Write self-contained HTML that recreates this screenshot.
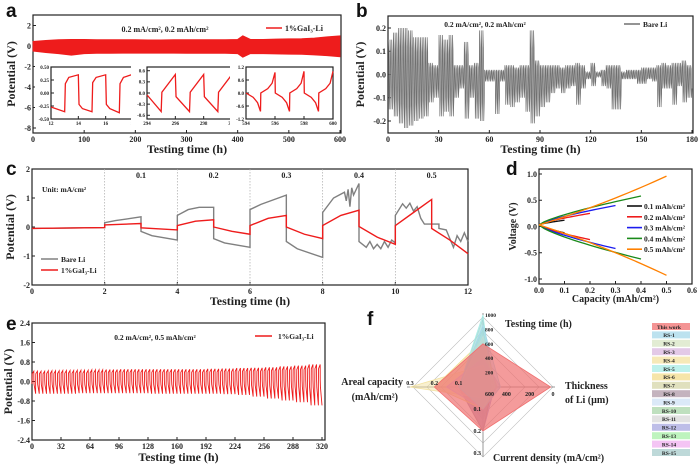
<!DOCTYPE html>
<html><head><meta charset="utf-8">
<style>
html,body{margin:0;padding:0;background:#fff;}
svg{display:block;}
text{font-family:"Liberation Serif",serif;font-weight:bold;fill:#222;}
.lt{font-family:"Liberation Sans",sans-serif;font-weight:bold;fill:#111;}
</style></head>
<body>
<svg id="fig" width="700" height="466" viewBox="0 0 700 466" xmlns="http://www.w3.org/2000/svg"></svg>
<script>
// ---------- DATA ----------
// Panel a: envelope of 1%GaI3-Li trace, every 25 h
const aTimes=[0,25,50,75,100,125,150,175,200,225,250,275,300,325,350,375,400,410,425,450,475,500,525,550,575,600];
const aUpper=[0.45,0.55,0.62,0.65,0.65,0.62,0.62,0.62,0.62,0.6,0.6,0.62,0.62,0.62,0.62,0.62,0.65,1.0,0.65,0.65,0.68,0.7,0.72,0.78,0.9,1.0];
const aLower=[-0.5,-0.65,-0.75,-0.9,-0.75,-0.72,-0.72,-0.7,-0.7,-0.7,-0.7,-0.7,-0.72,-0.72,-0.72,-0.72,-0.75,-1.1,-0.75,-0.75,-0.78,-0.8,-0.82,-0.88,-0.95,-1.05];
// insets (t,v)
const in1T=[12,13,13.05,13.3,14,14.05,14.3,15,15.05,15.3,16,16.05,16.3,17,17.05,17.3,18];
const in1V=[-0.27,-0.36,0.18,0.3,0.35,-0.22,-0.3,-0.36,0.2,0.3,0.35,-0.22,-0.3,-0.38,0.18,0.3,0.36];
const in2T=[294,295,295.05,296,296.05,297,297.05,298,298.05,299,299.05,300];
const in2V=[-0.05,-0.5,0.02,0.5,-0.1,-0.5,0.02,0.5,-0.1,-0.5,0.02,0.5];
const in3T=[594,594.5,594.8,595,595.02,595.5,595.8,596,596.02,596.5,596.8,597,597.02,597.5,597.8,598,598.02,598.5,598.8,599,599.02,599.5,599.8,600];
const in3V=[0,-0.2,-0.45,-0.85,0,0.2,0.45,0.95,0,-0.2,-0.45,-0.85,0,0.2,0.45,1.0,0,-0.2,-0.45,-0.85,0,0.2,0.45,1.0];
// Panel b: Bare Li envelope per 3 h bin
const bUpper=[0.15,0.18,0.2,0.2,0.19,0.16,0.16,0.16,0.05,0.04,0.17,0.15,0.17,0.04,0.04,0.14,0.04,0.05,0.19,0.02,0.02,0.02,0.02,0.04,0.04,0.03,0.04,0.04,0.19,0.06,0.04,0.04,0.04,0.04,0.03,0.04,0.04,0.05,0.04,0.01,0.05,0.01,0.02,0.04,0.04,0.04,0.01,0.02,0.02,0.02,0.03,0.03,0.03,0.04,0.05,0.04,0.05,0.05,0.06,0.04];
const bLower=[-0.15,-0.18,-0.21,-0.23,-0.22,-0.2,-0.19,-0.18,-0.12,-0.1,-0.18,-0.16,-0.18,-0.1,-0.06,-0.19,-0.1,-0.19,-0.2,-0.03,-0.03,-0.17,-0.03,-0.13,-0.14,-0.12,-0.1,-0.16,-0.21,-0.18,-0.14,-0.12,-0.08,-0.06,-0.08,-0.06,-0.05,-0.13,-0.06,-0.02,-0.05,-0.01,-0.05,-0.06,-0.15,-0.15,-0.02,-0.02,-0.02,-0.04,-0.04,-0.02,-0.03,-0.14,-0.06,-0.06,-0.13,-0.05,-0.12,-0.1];
// Panel c
const cBareT=[0,2,2,2.3,3,3,3.3,4,4,4.3,4.6,5,5,5.3,6,6,6.3,7,7,7.3,8,8,8.3,8.6,8.65,8.7,8.75,8.8,8.85,9,9,9.2,9.3,9.4,9.5,9.6,9.7,9.8,9.9,10,10,10.2,10.3,10.4,10.5,10.6,10.7,10.8,11.2,11.2,11.4,11.5,11.6,11.7,11.8,11.9,12];
const cBareV=[-0.05,-0.02,0.15,0.22,0.35,-0.15,-0.3,-0.45,0.4,0.6,0.68,0.68,-0.4,-0.55,-0.7,0.6,0.78,1.1,-0.5,-0.75,-1.05,0.5,1.0,1.2,0.9,1.3,0.7,1.35,1.1,1.5,-0.5,-0.7,-0.5,-0.75,-0.6,-0.75,-0.5,-0.7,-0.45,-0.55,0.4,0.8,0.65,0.82,0.55,0.7,0.3,0.1,0.1,-0.05,-0.1,-0.4,-0.7,-0.3,-0.5,-0.2,-0.5];
const cGaT=[0,2,2,3,3,4,4,4.5,5,5,5.5,6,6,6.5,7,7,7.5,8,8,8.5,9,9,9.5,10,10,10.5,11,11,11.5,12];
const cGaV=[-0.05,-0.02,0.07,0.12,-0.03,-0.1,0.05,0.2,0.25,0,-0.15,-0.25,0.05,0.3,0.4,0,-0.25,-0.4,0.05,0.4,0.58,0.02,-0.35,-0.6,0.05,0.5,0.95,-0.05,-0.45,-0.92];
// Panel d
const dCaps=[0.1,0.2,0.3,0.4,0.5];
const dLabels=["0.1 mAh/cm²","0.2 mAh/cm²","0.3 mAh/cm²","0.4 mAh/cm²","0.5 mAh/cm²"];
const dEndUp=[0.12,0.25,0.4,0.58,0.96];
const dEndDn=[-0.12,-0.25,-0.42,-0.62,-0.93];
// Panel e: envelope every 16 h
const eUpper=[0.42,0.44,0.45,0.46,0.48,0.49,0.5,0.5,0.5,0.5,0.5,0.5,0.52,0.53,0.55,0.56,0.58,0.62,0.65,0.7,0.75];
const eLower=[-0.5,-0.5,-0.5,-0.48,-0.48,-0.48,-0.48,-0.48,-0.5,-0.5,-0.5,-0.5,-0.5,-0.52,-0.55,-0.62,-0.7,-0.78,-0.85,-0.98,-1.12];
// Panel f
const fNames=["This work","RS-1","RS-2","RS-3","RS-4","RS-5","RS-6","RS-7","RS-8","RS-9","RS-10","RS-11","RS-12","RS-13","RS-14","RS-15"];
const fTime=[600,850,700,400,300,1000,650,700,300,500,800,350,250,600,400,950];
const fThick=[20,450,500,450,500,520,480,520,520,480,500,550,500,520,500,500];
const fCurrent=[0.2,0.1,0.1,0.1,0.05,0.1,0.1,0.05,0.2,0.1,0.1,0.1,0.2,0.1,0.2,0.15];
const fAreal=[0.2,0.1,0.1,0.15,0.3,0.1,0.2,0.1,0.1,0.1,0.1,0.1,0.1,0.1,0.1,0.1];
const fColors=["#f07070","#a6d8ea","#d8e6c4","#d9b7df","#f3e2a0","#a8ece6","#f3dc8c","#d6d6a8","#b09aa8","#cfe2f5","#a9d6a9","#d8d8d8","#a8a8e0","#a8f0a8","#f0b0f0","#a8cccc"];

// ---------- HELPERS ----------
const NS="http://www.w3.org/2000/svg";
const svg=document.getElementById('fig');
function mk(tag,at,parent){const e=document.createElementNS(NS,tag);for(const k in at)e.setAttribute(k,at[k]);(parent||svg).appendChild(e);return e;}
function lin(d0,d1,r0,r1){return v=>r0+(v-d0)*(r1-r0)/(d1-d0);}
function txt(x,y,s,size,anchor,name,parent,cls){const t=mk('text',{x:x,y:y,'font-size':size,'text-anchor':anchor||'start'},parent);if(cls)t.setAttribute('class',cls);t.textContent=s;


return t;}
function pathD(xs,ys){return xs.map((x,i)=>(i?'L':'M')+x.toFixed(2)+' '+ys[i].toFixed(2)).join('');}
function axes(o){
 const g=mk('g',{});
 
 
 const fr=mk('rect',{x:o.x0,y:o.y0,width:o.x1-o.x0,height:o.y1-o.y0,fill:'none',stroke:'#222','stroke-width':1.2},g);
 
 
 const fs=o.fs||8;
 o.xt.forEach((v,i)=>{const x=o.X(v);mk('line',{x1:x,x2:x,y1:o.y1,y2:o.y1-3,stroke:'#222'},g);
   const t=txt(x,o.y1+fs+1,o.xl?o.xl[i]:String(v),fs,'middle','x-tick-label',g);});
 o.yt.forEach((v,i)=>{const y=o.Y(v);mk('line',{x1:o.x0,x2:o.x0+3,y1:y,y2:y,stroke:'#222'},g);
   txt(o.x0-2,y+fs*0.35,o.yl?o.yl[i]:String(v),fs,'end','y-tick-label',g);});
 if(o.xtitle){txt((o.x0+o.x1)/2,o.xty,o.xtitle,o.tfs||12,'middle','x-axis-title',g);}
 if(o.ytitle){const t=txt(0,0,o.ytitle,o.tfs||12,'middle','y-axis-title',g);t.setAttribute('transform','translate('+o.ytx+','+((o.y0+o.y1)/2)+') rotate(-90)');}
 return g;
}
function letter(x,y,s,name){const t=txt(x,y,s,19,'start',name,svg,'lt');return t;}

// ---------- PANEL a ----------
{
 const X=lin(0,600,33,340),Y=v=>46-10.25*v;
 axes({name:'panel-a-axes',x0:33,x1:341,y0:15,y1:133,X:X,Y:Y,xt:[0,100,200,300,400,500,600],yt:[2,0,-2,-4,-6,-8],xtitle:'Testing time (h)',xty:153,ytitle:'Potential (V)',ytx:15});
 const xs=aTimes.map(X).concat(aTimes.map(X).reverse());
 const ys=aUpper.map(Y).concat(aLower.map(Y).reverse());
 const band=mk('path',{d:pathD(xs,ys)+'Z',fill:'#ee1c1c',stroke:'#ee1c1c','stroke-width':0.8});
 
 
 txt(165,32,'0.2 mA/cm², 0.2 mAh/cm²',8,'middle','condition-label');
 const ll=mk('line',{x1:266,x2:282,y1:28,y2:28,stroke:'#ee1c1c','stroke-width':1.5});
 
 
 txt(285,31,'1%GaI₃-Li',8,'start','legend-entry-gai3');
 const insets=[
  {x0:51,x1:133,t:in1T,v:in1V,xd:[12,18],yd:[-0.5,0.5],xt:[12,14,16,18],yt:[0.5,0.25,0,-0.25,-0.5],yl:['0.50','0.25','0.00','-0.25','-0.50']},
  {x0:147,x1:232,t:in2T,v:in2V,xd:[294,300],yd:[-0.7,0.7],xt:[294,296,298,300],yt:[0.6,0.3,0,-0.3,-0.6],yl:['0.6','0.3','0.0','-0.3','-0.6']},
  {x0:246,x1:333,t:in3T,v:in3V,xd:[594,600],yd:[-1.2,1.2],xt:[594,596,598,600],yt:[1.2,0.6,0,-0.6,-1.2],yl:['1.2','0.6','0.0','-0.6','-1.2']}];
 insets.forEach((s,k)=>{
  const ix=lin(s.xd[0],s.xd[1],s.x0,s.x1),iy=lin(s.yd[0],s.yd[1],119,67);
  mk('rect',{x:s.x0-16,y:63,width:s.x1-s.x0+18,height:64,fill:'#fff'});
  axes({name:'inset-'+(k+1)+'-axes',x0:s.x0,x1:s.x1,y0:67,y1:119,X:ix,Y:iy,xt:s.xt,yt:s.yt,yl:s.yl,fs:5});
  const p=mk('path',{d:pathD(s.t.map(ix),s.v.map(iy)),fill:'none',stroke:'#ee1c1c','stroke-width':1.3});
  
  
 });
 letter(6,17,'a','panel-a-label');
}
// ---------- PANEL b ----------
{
 const X=lin(0,180,388,692),Y=v=>74.5-232.5*v;
 axes({name:'panel-b-axes',x0:388,x1:693,y0:16,y1:133,X:X,Y:Y,xt:[0,30,60,90,120,150,180],yt:[0.2,0.1,0,-0.1,-0.2],yl:['0.2','0.1','0.0','-0.1','-0.2'],xtitle:'Testing time (h)',xty:153,ytitle:'Potential (V)',ytx:364});
 const xs=[],ys=[];
 bUpper.forEach((u,i)=>{for(let c=0;c<3;c++){const t=i*3+c;xs.push(X(t+0.2),X(t+0.5),X(t+0.7),X(t+1));ys.push(Y(u),Y(u*0.6),Y(bLower[i]),Y(bLower[i]*0.6));}});
 const p=mk('path',{d:pathD(xs,ys),fill:'none',stroke:'#707070','stroke-width':0.7});
 
 
 txt(485,27,'0.2 mA/cm², 0.2 mAh/cm²',7.5,'middle','condition-label');
 const ll=mk('line',{x1:624,x2:640,y1:24,y2:24,stroke:'#707070','stroke-width':1.5});
 
 
 txt(643,27,'Bare Li',7.5,'start','legend-entry-bare-li');
 letter(356,17,'b','panel-b-label');
}
// ---------- PANEL c ----------
{
 const X=lin(0,12,32,468),Y=lin(-2,2,285,169);
 axes({name:'panel-c-axes',x0:32,x1:468,y0:169,y1:285,X:X,Y:Y,xt:[0,2,4,6,8,10,12],yt:[2,1,0,-1,-2],xtitle:'Testing time (h)',xty:305,ytitle:'Potential (V)',ytx:14});
 [2,4,6,8,10].forEach(v=>{const l=mk('line',{x1:X(v),x2:X(v),y1:169,y2:285,stroke:'#aaa','stroke-dasharray':'1.5,1.5','stroke-width':0.7});
  
  });
 ['0.1','0.2','0.3','0.4','0.5'].forEach((s,i)=>txt(X(3+2*i),178,s,8,'middle','rate-label'));
 txt(42,192,'Unit: mA/cm²',7.5,'start','unit-label');
 const p1=mk('path',{d:pathD(cBareT.map(X),cBareV.map(Y)),fill:'none',stroke:'#808080','stroke-width':1.4});
 
 
 const p2=mk('path',{d:pathD(cGaT.map(X),cGaV.map(Y)),fill:'none',stroke:'#ee1c1c','stroke-width':1.4});
 
 
 const l1=mk('line',{x1:41,x2:58,y1:259,y2:259,stroke:'#808080','stroke-width':1.5});
 
 
 txt(61,262,'Bare Li',7.5,'start','legend-entry-bare-li');
 const l2=mk('line',{x1:41,x2:58,y1:270,y2:270,stroke:'#ee1c1c','stroke-width':1.5});
 
 
 txt(61,273,'1%GaI₃-Li',7.5,'start','legend-entry-gai3');
 letter(6,175,'c','panel-c-label');
}
// ---------- PANEL d ----------
{
 const X=lin(0,0.6,539,692),Y=v=>226.5-52.5*v;
 axes({name:'panel-d-axes',x0:539,x1:692,y0:169,y1:284,X:X,Y:Y,xt:[0,0.1,0.2,0.3,0.4,0.5,0.6],xl:['0.0','0.1','0.2','0.3','0.4','0.5','0.6'],yt:[1,0.5,0,-0.5,-1],yl:['1.0','0.5','0.0','-0.5','-1.0'],xtitle:'Capacity (mAh/cm²)',xty:302,tfs:10,ytitle:'Voltage (V)',ytx:516});
 const cols=['#111','#ee1c1c','#1c1cee','#1a8a1a','#ff8000'];
 dCaps.forEach((cap,k)=>{
  [dEndUp[k],dEndDn[k]].forEach((end,j)=>{
   const xs=[],ys=[];
   for(let i=0;i<=20;i++){const f=i/20;const c=cap*f;const shape=k===4?f*0.8+f*f*0.2:Math.pow(f,0.75);
    xs.push(X(c));ys.push(Y(0.03+(end-0.03)*shape));}
   const p=mk('path',{d:pathD(xs,ys),fill:'none',stroke:cols[k],'stroke-width':1.3});
   
   
  });
  const ly=206+k*10.8;
  const l=mk('line',{x1:627,x2:642,y1:ly,y2:ly,stroke:cols[k],'stroke-width':1.6});
  
  
  txt(644,ly+3,dLabels[k],7.5,'start','legend-entry-'+cap);
 });
 letter(506,175,'d','panel-d-label');
}
// ---------- PANEL e ----------
{
 const X=lin(0,320,32,322),Y=lin(-2.4,2.4,440,323);
 axes({name:'panel-e-axes',x0:32,x1:325,y0:323,y1:440,X:X,Y:Y,xt:[0,32,64,96,128,160,192,224,256,288,320],yt:[2.4,1.6,0.8,0,-0.8,-1.6,-2.4],yl:['2.4','1.6','0.8','0.0','-0.8','-1.6','-2.4'],xtitle:'Testing time (h)',xty:461,ytitle:'Potential (V)',ytx:12});
 const xs=[],ys=[];
 for(let c=0;c<80;c++){const t=c*4;const k=Math.min(20,Math.floor(t/16));
  xs.push(X(t),X(t+0.2),X(t+2),X(t+2.05),X(t+2.3),X(t+4));
  ys.push(Y(-0.1),Y(eUpper[k]*0.75),Y(eUpper[k]),Y(0.05),Y(eLower[k]*0.25),Y(eLower[k]));}
 const p=mk('path',{d:pathD(xs,ys),fill:'none',stroke:'#ee1c1c','stroke-width':0.9});
 
 
 txt(155,340,'0.2 mA/cm², 0.5 mAh/cm²',7.5,'middle','condition-label');
 const ll=mk('line',{x1:255,x2:272,y1:336,y2:336,stroke:'#ee1c1c','stroke-width':1.5});
 
 
 txt(278,339,'1%GaI₃-Li',7.5,'start','legend-entry-gai3');
 letter(6,330,'e','panel-e-label');
}
// ---------- PANEL f ----------
{
 const cx=483,cy=387,R=70;
 const rT=v=>v/1000*72, rTh=v=>(600-v)/600*70, rC=v=>v/0.3*66, rA=v=>v/0.3*73;
 for(let i=1;i<=5;i++){const r=R*i/5;const g=mk('polygon',{points:[cx,cy-r,cx+r,cy,cx,cy+r,cx-r,cy].join(' ')+'',fill:'none',stroke:'#bbb','stroke-width':0.6});
  
  }
 const ax=mk('path',{d:`M${cx} ${cy-74}V${cy+70}M${cx-76} ${cy}H${cx+72}`,stroke:'#999','stroke-width':1});
 
 
 for(let k=fNames.length-1;k>=0;k--){
  const pts=[cx,cy-rT(fTime[k]),cx+rTh(fThick[k]),cy,cx,cy+rC(fCurrent[k]),cx-rA(fAreal[k]),cy];
  const p=mk('polygon',{points:pts.join(' '),fill:fColors[k],'fill-opacity':k===0?0.7:0.5,stroke:fColors[k],'stroke-width':0.8});
  
  
 }
 [200,400,600,800,1000].forEach(v=>txt(cx+2,cy-rT(v)+2,String(v),5.5,'start','time-tick'));
 [0,200,400].forEach(v=>txt(cx+rTh(v),cy+9,String(v),6,'middle','thickness-tick'));
 txt(cx+2,cy+9,'600',6,'start','thickness-tick');
 [0.1,0.2,0.3].forEach(v=>txt(cx-rA(v),cy-2,String(v),6,'middle','areal-tick'));
 [0.1,0.2,0.3].forEach(v=>txt(cx-2,cy+rC(v)+2,String(v),6,'end','current-tick'));
 txt(505,327,'Testing time (h)',10,'start','axis-title-testing-time');
 txt(565,389,'Thickness',10,'start','axis-title-thickness');
 txt(565,403,'of Li (µm)',10,'start','axis-title-thickness-2');
 txt(403,385,'Areal capacity',10,'end','axis-title-areal');
 txt(398,400,'(mAh/cm²)',10,'end','axis-title-areal-2');
 txt(493,461,'Current density (mA/cm²)',10,'start','axis-title-current');
 fNames.forEach((n,k)=>{const y=323+k*8.4;
  const r=mk('rect',{x:652,y:y,width:38,height:7,fill:fColors[k],'fill-opacity':0.75});
  
  
  txt(669,y+5.8,n,5.5,'middle','legend-entry-'+n.toLowerCase().replace(' ','-'));});
 letter(367,325,'f','panel-f-label');
}
</script>
</body></html>
